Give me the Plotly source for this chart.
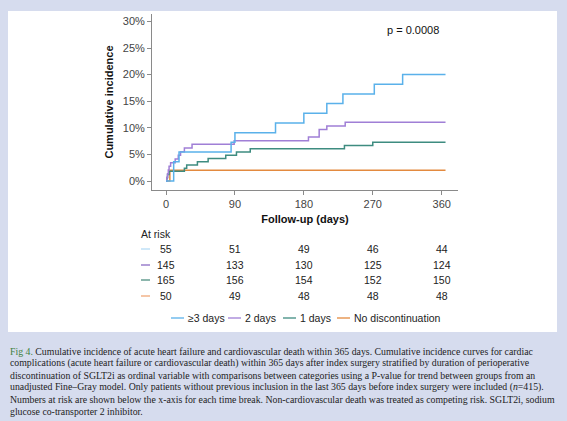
import plotly.graph_objects as go

W, H = 567, 421

# cumulative incidence curves (days, percent)
ge3_days = [0, 10, 17, 85, 90, 143, 180, 210, 231, 272, 309, 365]
ge3_pct = [0, 3.64, 5.45, 7.27, 9.09, 10.91, 12.73, 14.55, 16.36, 18.18, 20.0, 20.0]

two_days = [0, 1, 2, 3, 4, 6, 12, 16, 19, 24, 34, 89, 186, 200, 210, 234, 365]
two_pct = [0, 0.69, 1.38, 2.07, 2.76, 3.45, 4.14, 4.83, 5.52, 6.21, 6.90, 7.59, 8.28, 9.66, 10.34, 11.03, 11.03]

one_days = [0, 1, 2, 4, 24, 27, 41, 55, 78, 92, 110, 233, 270, 365]
one_pct = [0, 0.61, 1.21, 1.82, 2.42, 3.03, 3.64, 4.24, 4.85, 5.45, 6.06, 6.67, 7.27, 7.27]

nodisc_days = [0, 5, 365]
nodisc_pct = [0, 2.0, 2.0]

group_names = ["≥3 days", "2 days", "1 days", "No discontinuation"]
group_colors = ["#5AB1EA", "#A07FD6", "#3E8C80", "#E38A3F"]
risk_dash_colors = ["#B5DBF6", "#8C6CC4", "#4E8E80", "#F0A878"]

# numbers at risk
risk_days = [0, 90, 180, 270, 360]
risk_ge3 = [55, 51, 49, 46, 44]
risk_two = [145, 133, 130, 125, 124]
risk_one = [165, 156, 154, 152, 150]
risk_nodisc = [50, 49, 48, 48, 48]

x_ticks = [0, 90, 180, 270, 360]
y_ticks = [0, 5, 10, 15, 20, 25, 30]
y_ticktext = ["0%", "5%", "10%", "15%", "20%", "25%", "30%"]
p_text = "p = 0.0008"

caption_lines = [
    '<span style="color:#3f7f3f">Fig 4.</span> Cumulative incidence of acute heart failure and cardiovascular death within 365 days. Cumulative incidence curves for cardiac',
    "complications (acute heart failure or cardiovascular death) within 365 days after index surgery stratified by duration of perioperative",
    "discontinuation of SGLT2i as ordinal variable with comparisons between categories using a P-value for trend between groups from an",
    "unadjusted Fine\u2013Gray model. Only patients without previous inclusion in the last 365 days before index surgery were included (<i>n</i>=415).",
    "Numbers at risk are shown below the x-axis for each time break. Non-cardiovascular death was treated as competing risk. SGLT2i, sodium",
    "glucose co-transporter 2 inhibitor.",
]


def px_x(p):
    return p / W


def px_y(p):
    return 1 - p / H


fig = go.Figure()

series = [
    (ge3_days, ge3_pct),
    (two_days, two_pct),
    (one_days, one_pct),
    (nodisc_days, nodisc_pct),
]
# draw no-discontinuation first so it sits underneath like the original
for i in [3, 2, 1, 0]:
    d, p = series[i]
    fig.add_trace(go.Scatter(
        x=d, y=p, mode="lines", line_shape="hv",
        line=dict(color=group_colors[i], width=1.5),
        name=group_names[i], showlegend=False,
    ))

sans = "Liberation Sans, Arial, sans-serif"
serif = "Liberation Serif, Times New Roman, serif"

annotations = []
shapes = []

# white panel
shapes.append(dict(
    type="rect", xref="paper", yref="paper",
    x0=px_x(8), x1=px_x(557), y0=px_y(332), y1=px_y(11),
    fillcolor="white", line=dict(width=0), layer="below",
))

annotations.append(dict(
    x=322, y=28.4, xref="x", yref="y", text=p_text, showarrow=False,
    xanchor="center", yanchor="middle",
    font=dict(family=sans, size=11, color="#111"),
))

# at-risk table
annotations.append(dict(
    x=px_x(139), y=px_y(234), xref="paper", yref="paper", text="At risk",
    showarrow=False, xanchor="left", yanchor="middle",
    font=dict(family=sans, size=10.5, color="#222"),
))
row_y = [249, 265, 280, 296]
risk_rows = [risk_ge3, risk_two, risk_one, risk_nodisc]
for i, row in enumerate(risk_rows):
    shapes.append(dict(
        type="line", xref="paper", yref="paper",
        x0=px_x(141), x1=px_x(150), y0=px_y(row_y[i]), y1=px_y(row_y[i]),
        line=dict(color=risk_dash_colors[i], width=1.3),
    ))
    for d, n in zip(risk_days, row):
        annotations.append(dict(
            x=d, y=px_y(row_y[i]), xref="x", yref="paper", text=str(n),
            showarrow=False, xanchor="center", yanchor="middle",
            font=dict(family=sans, size=10.5, color="#222"),
        ))

# legend drawn by hand (short line keys)
legend_x = [171, 228, 283, 337]
legend_y = 318
for i, name in enumerate(group_names):
    x0 = legend_x[i]
    shapes.append(dict(
        type="line", xref="paper", yref="paper",
        x0=px_x(x0), x1=px_x(x0 + 13), y0=px_y(legend_y), y1=px_y(legend_y),
        line=dict(color=group_colors[i], width=1.3),
    ))
    annotations.append(dict(
        x=px_x(x0 + 15), y=px_y(legend_y), xref="paper", yref="paper", text=name,
        showarrow=False, xanchor="left", yanchor="middle",
        font=dict(family=sans, size=10.5, color="#222"),
    ))

# caption
for i, line in enumerate(caption_lines):
    annotations.append(dict(
        x=px_x(8), y=px_y(351 + 12 * i), xref="paper", yref="paper", text=line,
        showarrow=False, xanchor="left", yanchor="middle",
        font=dict(family=serif, size=9.8, color="#222"),
    ))

fig.update_layout(
    width=W, height=H,
    margin=dict(l=0, r=0, t=0, b=0),
    paper_bgcolor="#d6dcee",
    plot_bgcolor="white",
    showlegend=False,
    shapes=shapes,
    annotations=annotations,
    xaxis=dict(
        domain=[px_x(152), px_x(458)],
        range=[-18.3, 381.3],
        tickvals=x_ticks,
        showgrid=False, zeroline=False,
        showline=True, linecolor="#8a8a8a", linewidth=1,
        ticks="outside", ticklen=4, tickcolor="#8a8a8a",
        tickfont=dict(family=sans, size=11, color="#444"),
        title=dict(text="<b>Follow-up (days)</b>", standoff=6,
                   font=dict(family=sans, size=11, color="#111")),
    ),
    yaxis=dict(
        domain=[px_y(190), px_y(14)],
        range=[-1.69, 31.39],
        tickvals=y_ticks,
        ticktext=y_ticktext,
        showgrid=False, zeroline=False,
        showline=True, linecolor="#8a8a8a", linewidth=1,
        ticks="outside", ticklen=4, tickcolor="#8a8a8a",
        tickfont=dict(family=sans, size=11, color="#444"),
        title=dict(text="<b>Cumulative incidence</b>", standoff=6,
                   font=dict(family=sans, size=11, color="#111")),
    ),
)

fig.write_html(
    "out.html",
    config={"displayModeBar": False},
    post_script="document.body.style.margin='0';document.body.style.background='#d6dcee';",
)
